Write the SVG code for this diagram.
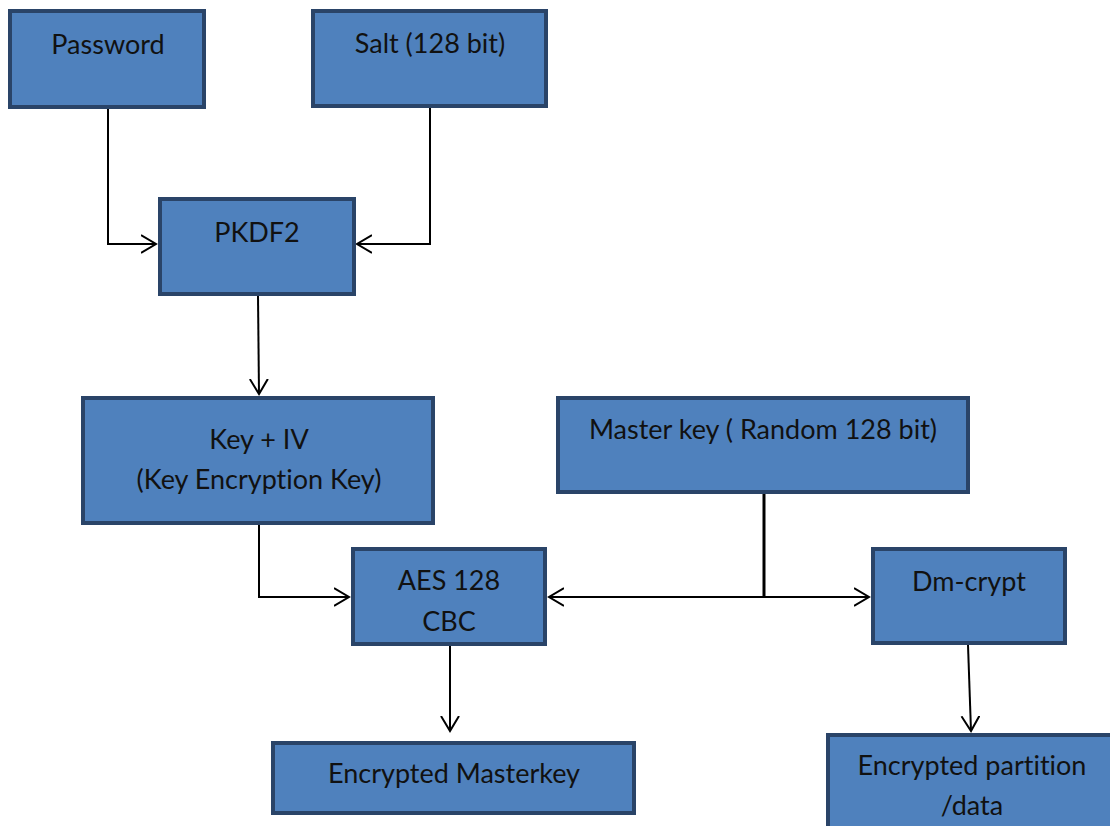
<svg xmlns="http://www.w3.org/2000/svg" width="1110" height="826" viewBox="0 0 1110 826">
<style>
.box{fill:#4F81BD;stroke:#2A4468;stroke-width:4}
.t{font-family:Lato,"Open Sans","Liberation Sans",sans-serif;font-size:27px;fill:#111;text-anchor:middle;font-variant-ligatures:none;font-feature-settings:"liga" 0,"dlig" 0}
.c{fill:none;stroke:#000;stroke-width:2}
.ah{fill:none;stroke:#000;stroke-width:2}
</style>
<defs>
<marker id="a" markerWidth="20" markerHeight="20" refX="15" refY="10" orient="auto" markerUnits="userSpaceOnUse">
<path d="M0,1 L15,10 L0,19" class="ah"/>
</marker>
<marker id="as" markerWidth="20" markerHeight="20" refX="15" refY="10" orient="auto-start-reverse" markerUnits="userSpaceOnUse">
<path d="M0,1 L15,10 L0,19" class="ah"/>
</marker>
</defs>
<rect width="1110" height="826" fill="#fff"/>
<g id="connectors">
<path class="c" d="M108,107 V244 H156" marker-end="url(#a)"/>
<path class="c" d="M430,107 V244 H357" marker-end="url(#a)"/>
<path class="c" d="M258,296 L259,394" marker-end="url(#a)"/>
<path class="c" d="M259,525 V597 H349" marker-end="url(#a)"/>
<path class="c" d="M764,494 V597" style="stroke-width:3"/>
<path class="c" d="M549,597 H869" marker-start="url(#as)" marker-end="url(#a)"/>
<path class="c" d="M450,646 V731" marker-end="url(#a)"/>
<path class="c" d="M968,645 L971,731" marker-end="url(#a)"/>
</g>
<g id="password"><rect class="box" x="10" y="11" width="194" height="96"/><text class="t" x="108" y="54">Password</text></g>
<g id="salt"><rect class="box" x="313" y="11" width="233" height="95"/><text class="t" x="430" y="53">Salt (128 bit)</text></g>
<g id="pkdf2"><rect class="box" x="160" y="199" width="194" height="95"/><text class="t" x="257" y="242">PKDF2</text></g>
<g id="keyiv"><rect class="box" x="83" y="398" width="350" height="125"/><text class="t" x="259" y="449">Key + IV</text><text class="t" x="259" y="489">(Key Encryption Key)</text></g>
<g id="masterkey"><rect class="box" x="558" y="398" width="410" height="94"/><text class="t" x="763" y="439">Master key ( Random 128 bit)</text></g>
<g id="aes"><rect class="box" x="353" y="549" width="192" height="95"/><text class="t" x="449" y="590">AES 128</text><text class="t" x="449" y="631">CBC</text></g>
<g id="dmcrypt"><rect class="box" x="873" y="549" width="192" height="94"/><text class="t" x="969" y="591">Dm-crypt</text></g>
<g id="encmaster"><rect class="box" x="273" y="743" width="361" height="70"/><text class="t" x="454" y="783">Encrypted Masterkey</text></g>
<g id="encpart"><rect class="box" x="828" y="735" width="290" height="100"/><text class="t" x="972" y="775">Encrypted partition</text><text class="t" x="972" y="815">/data</text></g>
</svg>
